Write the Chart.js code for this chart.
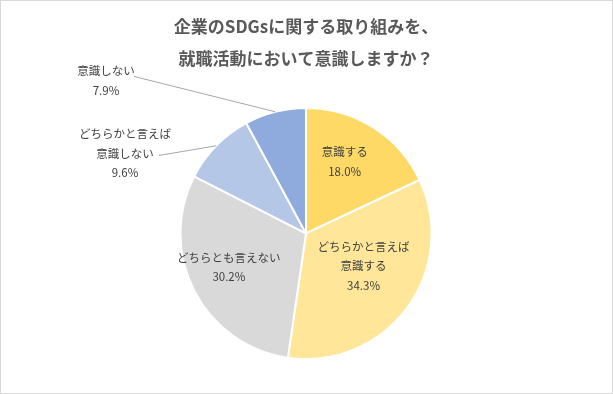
<!DOCTYPE html>
<html>
<head>
<meta charset="utf-8">
<script src="https://cdn.jsdelivr.net/npm/chart.js@4/dist/chart.umd.min.js"></script>
<style>
  html, body { margin: 0; padding: 0; background: #fff; }
  #wrap { width: 613px; height: 394px; box-sizing: border-box; border: 1px solid #d9d9d9; position: relative; }
  canvas { display: block; }
</style>
</head>
<body>
<div id="wrap"><canvas id="chart" width="611" height="392"></canvas></div>
<script>
const categories = ['意識する', 'どちらかと言えば意識する', 'どちらとも言えない', 'どちらかと言えば意識しない', '意識しない'];
const labelLines = [['意識する'], ['どちらかと言えば', '意識する'], ['どちらとも言えない'], ['どちらかと言えば', '意識しない'], ['意識しない']];
const values = [18.0, 34.3, 30.2, 9.6, 7.9];
const colors = ['#FFD966', '#FFE699', '#D9D9D9', '#B4C7E7', '#8FAADC'];
const titleLines = ['企業のSDGsに関する取り組みを、', '就職活動において意識しますか？'];

const FONT = '"Noto Sans CJK JP", "Noto Sans", sans-serif';

// ラベル配置（内側は中心角方向 + 微調整、外側は中心からの相対位置）
const labelPlace = [
    { inside: true, frac: 0.62, dx: -3, dy: -6 },
    { inside: true, frac: 0.62, dx: -5, dy: -14 },
    { inside: true, frac: 0.62, dx: -8, dy: -2 },
    { inside: false, x: -181, y: -80, lineFrom: [-147, -78] },
    { inside: false, x: -200, y: -153, lineFrom: [-172, -157] }
];

const pieLabels = {
    id: 'pieLabels',
    afterDatasetsDraw(chart) {
        const ctx = chart.ctx;
        const meta = chart.getDatasetMeta(0);
        ctx.save();
        ctx.font = '11.5px ' + FONT;
        ctx.fillStyle = '#404040';
        ctx.textAlign = 'center';
        ctx.textBaseline = 'middle';
        const lh = 19.5;
        meta.data.forEach((arc, i) => {
            const p = arc.getProps(['x', 'y', 'startAngle', 'endAngle', 'outerRadius'], true);
            const mid = (p.startAngle + p.endAngle) / 2;
            const lines = labelLines[i].concat([values[i].toFixed(1) + '%']);
            const pl = labelPlace[i];
            let cx, cy;
            if (pl.inside) {
                cx = p.x + Math.cos(mid) * p.outerRadius * pl.frac + pl.dx;
                cy = p.y + Math.sin(mid) * p.outerRadius * pl.frac + pl.dy;
            } else {
                cx = p.x + pl.x;
                cy = p.y + pl.y;
                const ex = p.x + Math.cos(mid) * p.outerRadius;
                const ey = p.y + Math.sin(mid) * p.outerRadius;
                ctx.strokeStyle = '#a6a6a6';
                ctx.lineWidth = 1;
                ctx.beginPath();
                ctx.moveTo(p.x + pl.lineFrom[0], p.y + pl.lineFrom[1]);
                ctx.lineTo(ex, ey);
                ctx.stroke();
            }
            const top = cy - (lines.length - 1) * lh / 2;
            lines.forEach((t, k) => ctx.fillText(t, cx, top + k * lh));
        });
        ctx.restore();
    }
};

new Chart(document.getElementById('chart'), {
    type: 'pie',
    data: {
        labels: categories,
        datasets: [{
            data: values,
            backgroundColor: colors,
            borderColor: '#ffffff',
            borderWidth: 2
        }]
    },
    options: {
        responsive: false,
        animation: false,
        layout: { padding: { top: 0, bottom: 33, left: 0, right: 1 } },
        plugins: {
            legend: { display: false },
            tooltip: { enabled: false },
            title: {
                display: true,
                text: titleLines,
                color: '#595959',
                font: { family: FONT, size: 17, weight: 'bold', lineHeight: 1.85 },
                padding: { top: 10, bottom: 33 }
            }
        }
    },
    plugins: [pieLabels]
});
</script>
</body>
</html>
